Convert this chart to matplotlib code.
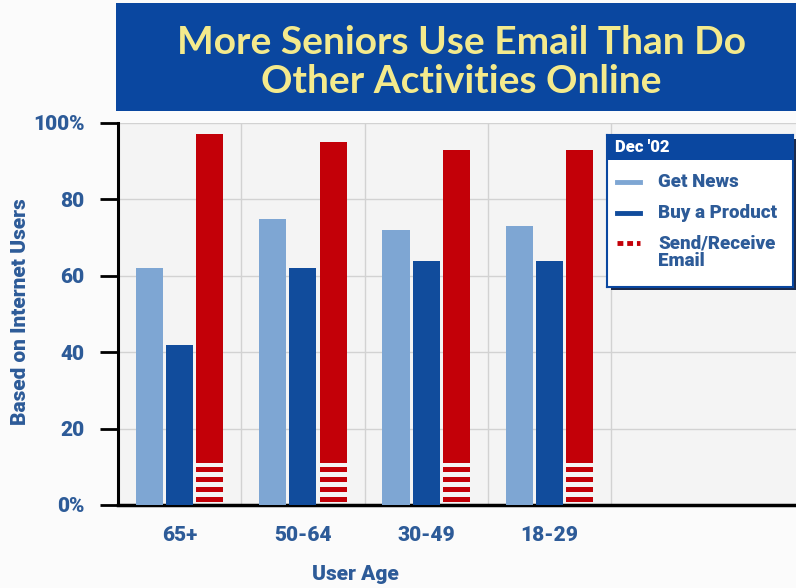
import numpy as np
import matplotlib.pyplot as plt
from matplotlib.patches import Rectangle
from matplotlib.lines import Line2D

# data
ages = ['65+', '50-64', '30-49', '18-29']
get_news = [62, 75, 72, 73]
buy_product = [42, 62, 64, 64]
send_email = [97, 95, 93, 93]
y_ticks = [0, 20, 40, 60, 80, 100]
y_ticklabels = ['0%', '20', '40', '60', '80', '100%']
legend_labels = ['Get News', 'Buy a Product', 'Send/Receive\nEmail']

# colours
c_light = '#7ea6d3'
c_dark = '#114c9c'
c_red = '#c30008'
c_banner = '#0a47a0'
c_text = '#2d5b98'
c_title = '#f4ea8c'

plt.rcParams['font.family'] = ['Roboto', 'DejaVu Sans']

fig = plt.figure(figsize=(7.96, 5.88), dpi=100)
fig.patch.set_facecolor('#fbfbfb')

W, H = 796, 588

def fx(px):
    return px / W

def fy(py):
    return 1 - py / H

# title banner
fig.patches.append(Rectangle((fx(116), fy(111)), fx(796) - fx(116), fy(3) - fy(111),
                             transform=fig.transFigure, facecolor=c_banner,
                             edgecolor='none', zorder=0))
fig.text(fx(461), fy(62), 'More Seniors Use Email Than Do\nOther Activities Online',
         ha='center', va='center', fontsize=28, color=c_title,
         family=['Lato', 'DejaVu Sans'], fontweight='bold', linespacing=1.15)

ax = fig.add_axes([fx(118), fy(505), 1 - fx(118), fy(123) - fy(505)])
ax.set_facecolor('#f4f4f4')

x = np.arange(len(ages))
w = 0.22
step = 0.245

ax.bar(x - step, get_news, w, color=c_light, zorder=3)
ax.bar(x, buy_product, w, color=c_dark, zorder=3)

# red bars: solid above, striped base
stripe_top = 11.0
ax.bar(x + step, np.array(send_email) - stripe_top, w, bottom=stripe_top,
       color=c_red, zorder=3)
for k in range(4):
    ax.bar(x + step, 1.35, w, bottom=0.75 + k * 2.6, color=c_red, zorder=3)

ax.set_xlim(-0.5, 5.0)
ax.set_ylim(0, 100)

ax.set_yticks(y_ticks)
ax.set_yticklabels(y_ticklabels)
ax.set_xticks(x)
ax.set_xticklabels(ages)

ax.tick_params(axis='y', length=13, width=2, color='black', pad=11,
               labelsize=15, labelcolor=c_text)
ax.tick_params(axis='x', length=0, pad=15, labelsize=15, labelcolor=c_text)
for lab in ax.get_xticklabels() + ax.get_yticklabels():
    lab.set_fontweight('heavy')

for side in ['top', 'right']:
    ax.spines[side].set_visible(False)
ax.spines['left'].set_linewidth(2.2)
ax.spines['bottom'].set_linewidth(2.5)

for yv in y_ticks[1:]:
    ax.axhline(yv, color='#d2d2d2', lw=1, zorder=1)
for xv in x + 0.5:
    ax.axvline(xv, color='#d2d2d2', lw=1, zorder=1)

ax.set_ylabel('Based on Internet Users', fontsize=15, fontweight='heavy',
              color=c_text)
ax.yaxis.set_label_coords(-(118 - 30) / (W - 118), (505 - 312) / (505 - 123))
ax.set_xlabel('User Age', fontsize=15, fontweight='heavy', color=c_text)
ax.xaxis.set_label_coords((355 - 118) / (W - 118), -(575 - 505) / (505 - 123))
ax.xaxis.label.set_va('center')

# legend box
fig.patches.append(Rectangle((fx(611), fy(290)), fx(796) - fx(611), fy(139) - fy(290),
                             transform=fig.transFigure, facecolor='#1c2a4a',
                             edgecolor='none', zorder=5))
lax = fig.add_axes([fx(607), fy(287), fx(793) - fx(607), fy(135) - fy(287)])
lax.set_xlim(0, 186)
lax.set_ylim(152, 0)
lax.set_zorder(6)
lax.set_facecolor('white')
for s in lax.spines.values():
    s.set_color(c_banner)
    s.set_linewidth(1.5)
lax.set_xticks([])
lax.set_yticks([])
lax.add_patch(Rectangle((0, 0), 186, 25, facecolor=c_banner, edgecolor='none'))
lax.text(8, 12.5, "Dec '02", color='white', fontsize=12, fontweight='heavy',
         va='center', ha='left')

legend_y = [47, 78, 108]
lax.add_line(Line2D([10, 33], [legend_y[0], legend_y[0]], color=c_light, lw=3.5))
lax.add_line(Line2D([10, 33], [legend_y[1], legend_y[1]], color=c_dark, lw=3.5))
lax.add_line(Line2D([10, 33], [legend_y[2], legend_y[2]], color=c_red, lw=3.5,
                    dashes=(1.2, 0.8, 1.2, 0.8, 3.5, 0.5)))
lax.text(51, legend_y[0], legend_labels[0], color=c_text, fontsize=13.5,
         fontweight='heavy', va='center', ha='left')
lax.text(51, legend_y[1], legend_labels[1], color=c_text, fontsize=13.5,
         fontweight='heavy', va='center', ha='left')
lax.text(51, legend_y[2] - 9, legend_labels[2], color=c_text, fontsize=13.5,
         fontweight='heavy', va='top', ha='left', linespacing=1.0)

fig.savefig('out.png', dpi=100, facecolor=fig.get_facecolor())
